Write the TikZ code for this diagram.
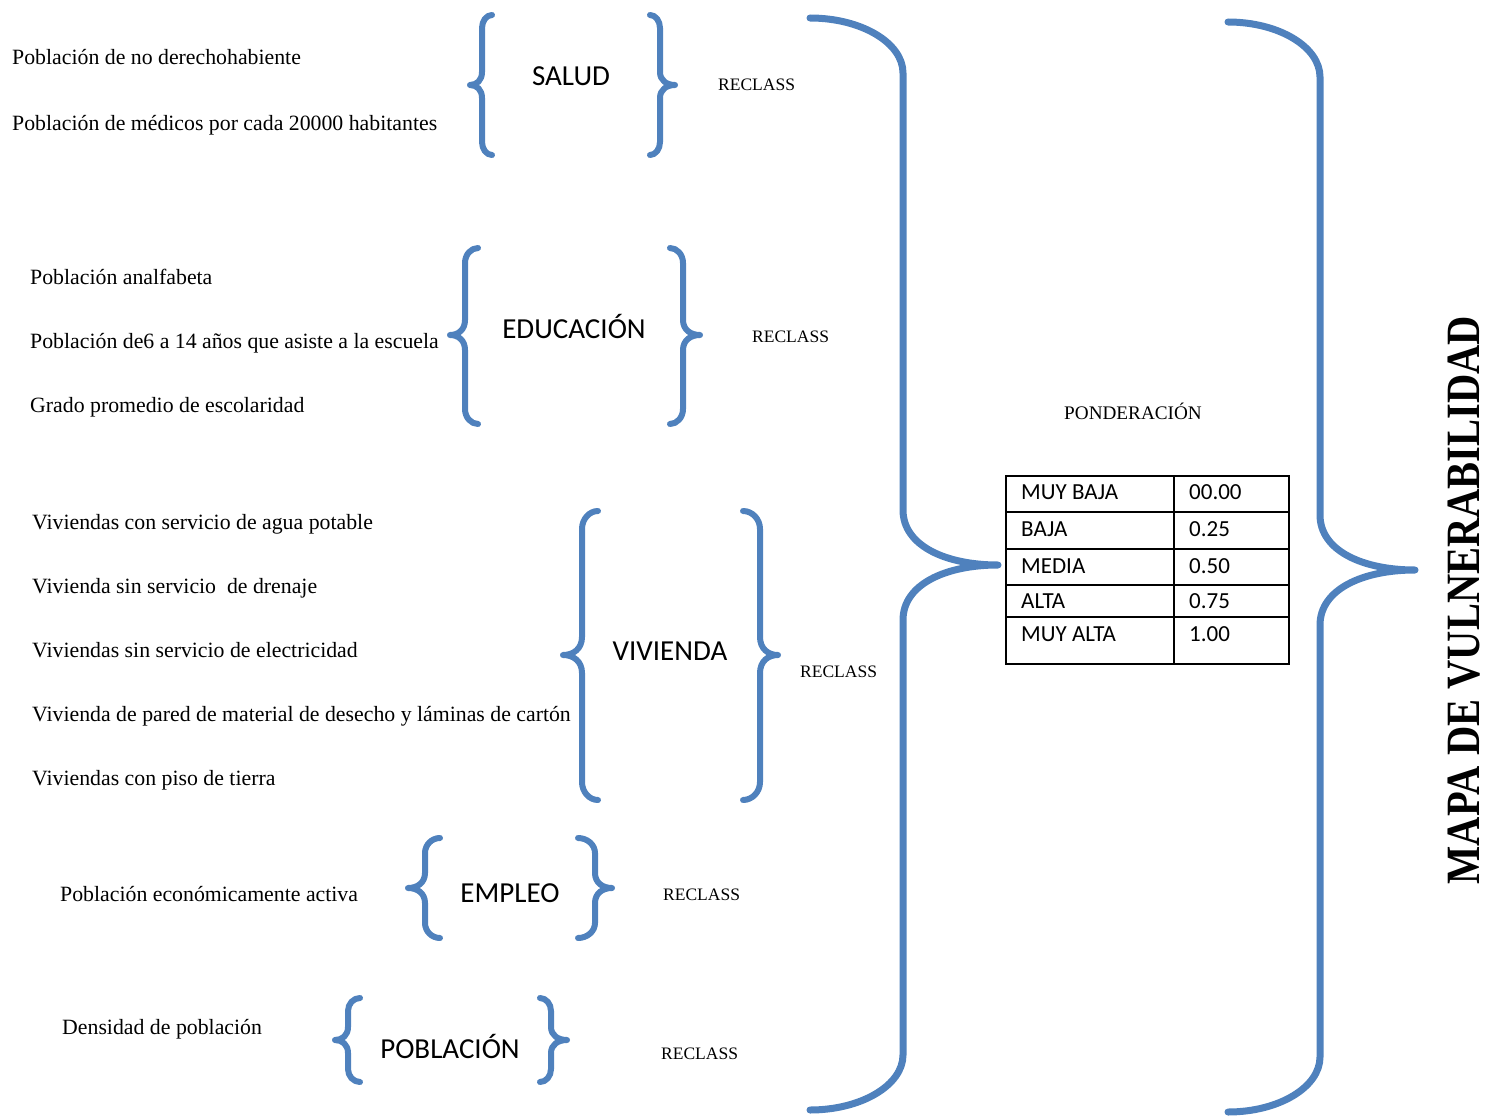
\documentclass[tikz,border=0pt]{standalone}
\usepackage{fontspec}
\setmainfont{Liberation Serif}
\newfontfamily\carfont{Carlito}
\usetikzlibrary{calc}
\definecolor{brblue}{HTML}{4F81BD}
\tikzset{
  brc/.style={draw=brblue, line width=6pt, line cap=round, line join=round},
  bigbrc/.style={draw=brblue, line width=7pt, line cap=round, line join=round},
  body/.style={anchor=base west, inner sep=0pt, font=\fontsize{21.8}{24}\selectfont},
  recl/.style={anchor=base west, inner sep=0pt, font=\fontsize{17.5}{20}\selectfont},
  lab/.style={anchor=base, inner sep=0pt, font=\carfont\fontsize{29}{32}\selectfont},
  cell/.style={anchor=base west, inner sep=0pt, font=\carfont\fontsize{23}{26}\selectfont},
}
% #1 xv, #2 ytop, #3 ybot, #4 ymid, #5 xtip, #6 xhook, #7 r, #8 style
\newcommand\MyBrace[8]{%
  \draw[#8] (#6,#2) .. controls ({#1+0.45*(#6-#1)},#2) and (#1,{#2+0.45*#7}) .. (#1,{#2+#7})
    -- (#1,{#4-#7}) .. controls (#1,{#4-0.35*#7}) and ({#5+0.55*(#1-#5)},#4) .. (#5,#4)
    .. controls ({#5+0.55*(#1-#5)},#4) and (#1,{#4+0.35*#7}) .. (#1,{#4+#7})
    -- (#1,{#3-#7}) .. controls (#1,{#3-0.45*#7}) and ({#1+0.45*(#6-#1)},#3) .. (#6,#3);
}
\begin{document}
\begin{tikzpicture}[x=1pt,y=-1pt]
\useasboundingbox (0,0) rectangle (1486,1116);

% small braces
\MyBrace{482}{15}{155}{85}{470}{492}{13}{brc}
\MyBrace{660}{15}{155}{85}{675}{650}{13}{brc}
\MyBrace{465}{248}{424}{335}{450}{478}{15}{brc}
\MyBrace{683}{248}{424}{335}{700}{670}{15}{brc}
\MyBrace{582}{511}{800}{655}{563}{598}{18}{brc}
\MyBrace{760}{511}{800}{655}{778}{743}{18}{brc}
\MyBrace{425}{838}{938}{888}{408}{440}{15}{brc}
\MyBrace{595}{838}{938}{888}{612}{578}{15}{brc}
\MyBrace{348}{998}{1082}{1040}{335}{360}{13}{brc}
\MyBrace{551}{998}{1082}{1040}{567}{540}{13}{brc}

% big braces
\MyBrace{903}{18}{1110}{565}{998}{810}{55}{bigbrc}
\MyBrace{1320}{22}{1112}{570}{1415}{1228}{55}{bigbrc}

% left texts
\node[body] (s1) at (12,65) {Población de no derechohabiente};
\node[body] (s2) at (12,130) {Población de médicos por cada 20000 habitantes};
\node[body] (e1) at (30,284) {Población analfabeta};
\node[body] (e2) at (30,348) {Población de6 a 14 años que asiste a la escuela};
\node[body] (e3) at (30,412) {Grado promedio de escolaridad};
\node[body] (v1) at (32,529) {Viviendas con servicio de agua potable};
\node[body] (v2) at (32,593) {Vivienda sin servicio \ de drenaje};
\node[body] (v3) at (32,657) {Viviendas sin servicio de electricidad};
\node[body] (v4) at (32,721) {Vivienda de pared de material de desecho y láminas de cartón};
\node[body] (v5) at (32,785) {Viviendas con piso de tierra};
\node[body] (m1) at (60,901) {Población económicamente activa};
\node[body] (p1) at (62,1034) {Densidad de población};

% group labels
\node[lab] (salud) at (571,85) {SALUD};
\node[lab] (edu) at (574,338) {EDUCACIÓN};
\node[lab] (viv) at (670,660) {VIVIENDA};
\node[lab] (emp) at (510,902) {EMPLEO};
\node[lab] (pob) at (450,1058) {POBLACIÓN};

% RECLASS
\node[recl] (r1) at (718,91) {RECLASS};
\node[recl] (r2) at (752,342) {RECLASS};
\node[recl] (r3) at (800,677) {RECLASS};
\node[recl] (r4) at (663,900) {RECLASS};
\node[recl] (r5) at (661,1059) {RECLASS};

\node[anchor=base west, inner sep=0pt, font=\fontsize{19.2}{22}\selectfont] (pond) at (1064,419) {PONDERACIÓN};

% table
\draw[line width=2pt] (1006,476) rectangle (1289,664);
\foreach \yy in {512,549,585,617}{\draw[line width=2pt] (1006,\yy) -- (1289,\yy);}
\draw[line width=2pt] (1174,476) -- (1174,664);
\node[cell] (c1) at (1021,499) {MUY BAJA};
\node[cell] (d1) at (1189,499) {00.00};
\node[cell] (c2) at (1021,536) {BAJA};
\node[cell] (d2) at (1189,536) {0.25};
\node[cell] (c3) at (1021,573) {MEDIA};
\node[cell] (d3) at (1189,573) {0.50};
\node[cell] (c4) at (1021,608) {ALTA};
\node[cell] (d4) at (1189,608) {0.75};
\node[cell] (c5) at (1021,641) {MUY ALTA};
\node[cell] (d5) at (1189,641) {1.00};

% vertical title
\node[rotate=90, inner sep=0pt, font=\bfseries\fontsize{40.5}{44}\selectfont] (title) at (1464,600) {\scalebox{1}[1.18]{MAPA DE VULNERABILIDAD}};
\end{tikzpicture}
\end{document}
